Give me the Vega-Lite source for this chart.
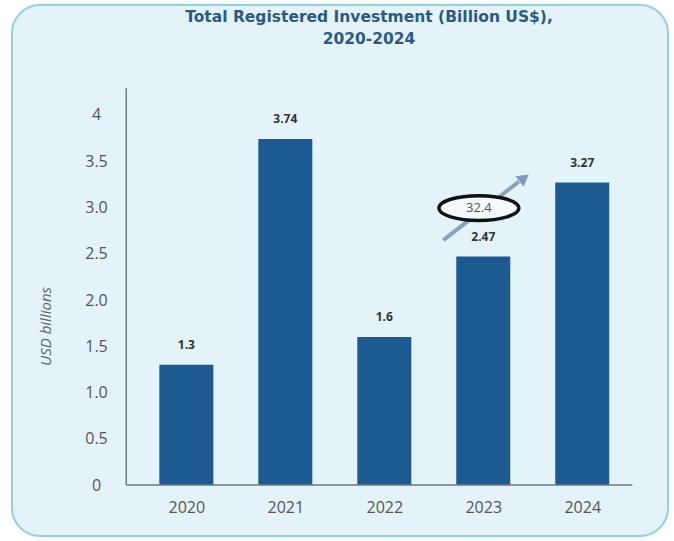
{
  "$schema": "https://vega.github.io/schema/vega-lite/v6.json",
  "width": 656,
  "height": 531,
  "autosize": {"type": "none"},
  "padding": {"left": 12, "top": 5, "right": 6, "bottom": 5},
  "background": "#ffffff",
  "config": {
    "font": "Open Sans",
    "view": {"fill": "#e4f3f9", "stroke": "#93d1dc", "strokeWidth": 2, "cornerRadius": 28}
  },
  "title": {
    "text": ["Total Registered Investment (Billion US$),", "2020-2024"],
    "anchor": "middle",
    "offset": -42,
    "dx": 29,
    "fontSize": 15.5,
    "fontWeight": "bold",
    "color": "#2a5a85",
    "lineHeight": 22,
    "font": "DejaVu Sans"
  },
  "datasets": {
    "bars": [
      {"year": 2020, "value": 1.3},
      {"year": 2021, "value": 3.74},
      {"year": 2022, "value": 1.6},
      {"year": 2023, "value": 2.47},
      {"year": 2024, "value": 3.27}
    ],
    "note": [{"change": "32.4"}]
  },
  "layer": [
    {
      "data": {"name": "bars"},
      "mark": {"type": "bar", "width": 54, "color": "#1d5a91"},
      "encoding": {
        "x": {
          "field": "year", "type": "quantitative",
          "scale": {"domain": [2018.289, 2024.816], "nice": false, "zero": false},
          "axis": {
            "values": [2020, 2021, 2022, 2023, 2024], "format": "d",
            "domain": false, "ticks": false, "tickSize": 0, "grid": false,
            "labelFlush": false, "labelOverlap": false,
            "offset": -51, "labelPadding": 22, "labelBaseline": "middle",
            "labelFontSize": 16, "labelColor": "#555555", "title": null
          }
        },
        "y": {
          "field": "value", "type": "quantitative",
          "scale": {"domain": [-0.551, 5.189], "nice": false, "zero": false},
          "axis": {
            "values": [0, 0.5, 1, 1.5, 2, 2.5, 3, 3.5, 4],
            "labelExpr": "datum.value == 0 ? '0' : datum.value == 4 ? '4' : format(datum.value, '.1f')",
            "domain": false, "ticks": false, "tickSize": 0, "grid": false,
            "labelAlign": "center", "labelPadding": 0, "offset": -84,
            "labelFontSize": 16, "labelColor": "#555555", "labelOverlap": false,
            "title": "USD billions", "titleFontSize": 15, "titleFontStyle": "italic",
            "titleFontWeight": "normal", "titleColor": "#666666",
            "titleX": -51, "titleY": 321, "titleAngle": 270,
            "titleAlign": "center", "titleBaseline": "middle"
          }
        }
      }
    },
    {
      "data": {"name": "bars"},
      "mark": {"type": "text", "dy": -20, "fontWeight": "bold", "fontSize": 12, "color": "#333333"},
      "encoding": {
        "x": {"field": "year", "type": "quantitative"},
        "y": {"field": "value", "type": "quantitative"},
        "text": {"field": "value", "type": "quantitative"}
      }
    },
    {
      "data": {"name": "note"},
      "mark": {"type": "rule", "color": "#6b7b80", "strokeWidth": 1.5},
      "encoding": {
        "x": {"datum": 2019.393, "type": "quantitative"},
        "y": {"datum": 0, "type": "quantitative"},
        "y2": {"datum": 4.29}
      }
    },
    {
      "data": {"name": "note"},
      "mark": {"type": "rule", "color": "#6b7b80", "strokeWidth": 1.5},
      "encoding": {
        "x": {"datum": 2019.393, "type": "quantitative"},
        "x2": {"datum": 2024.507},
        "y": {"datum": 0, "type": "quantitative"}
      }
    },
    {
      "data": {"name": "note"},
      "mark": {"type": "rule", "color": "#8aa3bd", "strokeWidth": 4},
      "encoding": {
        "x": {"datum": 2022.597, "type": "quantitative"},
        "x2": {"datum": 2023.36},
        "y": {"datum": 2.648, "type": "quantitative"},
        "y2": {"datum": 3.28}
      }
    },
    {
      "data": {"name": "note"},
      "mark": {"type": "point", "shape": "triangle-right", "filled": true, "size": 180, "angle": 323, "color": "#7f9cbc", "opacity": 1},
      "encoding": {
        "x": {"datum": 2023.413, "type": "quantitative"},
        "y": {"datum": 3.319, "type": "quantitative"}
      }
    },
    {
      "data": {"name": "note"},
      "mark": {"type": "point", "shape": "M-1,0A1,0.31,0,1,1,1,0A1,0.31,0,1,1,-1,0Z", "size": 6400, "filled": true, "fill": "#f3f9fc", "stroke": "#111111", "strokeWidth": 3.5, "opacity": 1, "fillOpacity": 1, "strokeOpacity": 1},
      "encoding": {
        "x": {"datum": 2022.956, "type": "quantitative"},
        "y": {"datum": 2.994, "type": "quantitative"}
      }
    },
    {
      "data": {"name": "note"},
      "mark": {"type": "text", "fontSize": 13, "color": "#555555"},
      "encoding": {
        "x": {"datum": 2022.956, "type": "quantitative"},
        "y": {"datum": 2.994, "type": "quantitative"},
        "text": {"field": "change", "type": "nominal"}
      }
    }
  ]
}
